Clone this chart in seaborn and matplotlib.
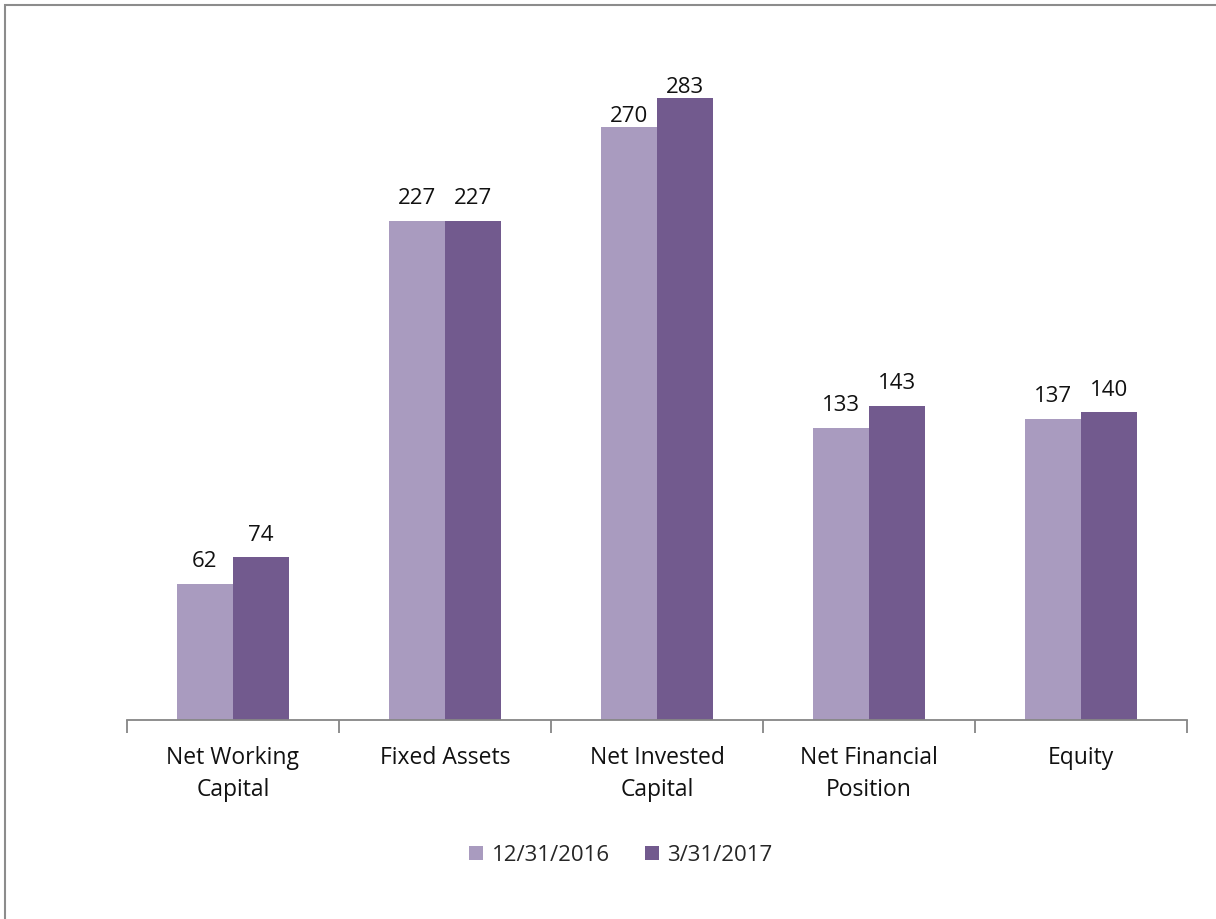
import pandas as pd
import numpy as np
import matplotlib.pyplot as plt
import seaborn as sns
from matplotlib.patches import Rectangle

# values
categories = ["Net Working\nCapital", "Fixed Assets", "Net Invested\nCapital",
              "Net Financial\nPosition", "Equity"]
periods = ["12/31/2016", "3/31/2017"]
vals_2016 = [62, 227, 270, 133, 137]
vals_2017 = [74, 227, 283, 143, 140]

df = pd.DataFrame({
    "Category": categories * 2,
    "Period": [periods[0]] * 5 + [periods[1]] * 5,
    "Value": vals_2016 + vals_2017,
})

sns.set_style("white")
plt.rcParams["font.family"] = ["Open Sans", "DejaVu Sans"]

fig = plt.figure(figsize=(12.16, 9.19), dpi=100)
ax = fig.add_axes([0.1044, 0.2165, 0.8718, 0.7175])

pal = ["#A99BBF", "#725A8E"]
sns.barplot(data=df, x="Category", y="Value", hue="Period", palette=pal,
            width=0.528, saturation=1, linewidth=0, ax=ax, legend=True)

ax.set_ylim(0, 300)
ax.set_xlim(-0.5, 4.5)
ax.set(xlabel="", ylabel="")
ax.set_yticks([])
for s in ["top", "right", "left"]:
    ax.spines[s].set_visible(False)
ax.spines["bottom"].set_color("#868686")
ax.spines["bottom"].set_linewidth(1.3)

# tick marks between categories
ax.set_xticks(np.arange(-0.5, 5, 1), minor=True)
ax.tick_params(axis="x", which="minor", bottom=True, length=9,
               color="#868686", width=1.3)
ax.tick_params(axis="x", which="major", length=0, labelsize=16.5, pad=19,
               labelcolor="#111111")
for lab in ax.get_xticklabels():
    lab.set_linespacing(1.4)

# value labels - excel squeezes the tallest ones close to the bar
for c in ax.containers:
    labels = ax.bar_label(c, fmt="%d", fontsize=16, color="#111111")
    for t, bar in zip(labels, c):
        pad = 0 if bar.get_height() > 250 else 8.5
        t.xyann = (0, pad)

ax.legend(loc="center", bbox_to_anchor=(0.466, -0.205), ncol=2, frameon=False,
          fontsize=16, handlelength=0.6, handleheight=0.6, handletextpad=0.4,
          columnspacing=1.6)

# outer chart border (only top and left visible)
fig.patches.append(Rectangle((5 / 1216, -0.1), 1.2, 1 - 5 / 919 + 0.1,
                             transform=fig.transFigure, fill=False,
                             edgecolor="#8C8C8C", linewidth=1.5))

fig.savefig("out.png", dpi=100)
